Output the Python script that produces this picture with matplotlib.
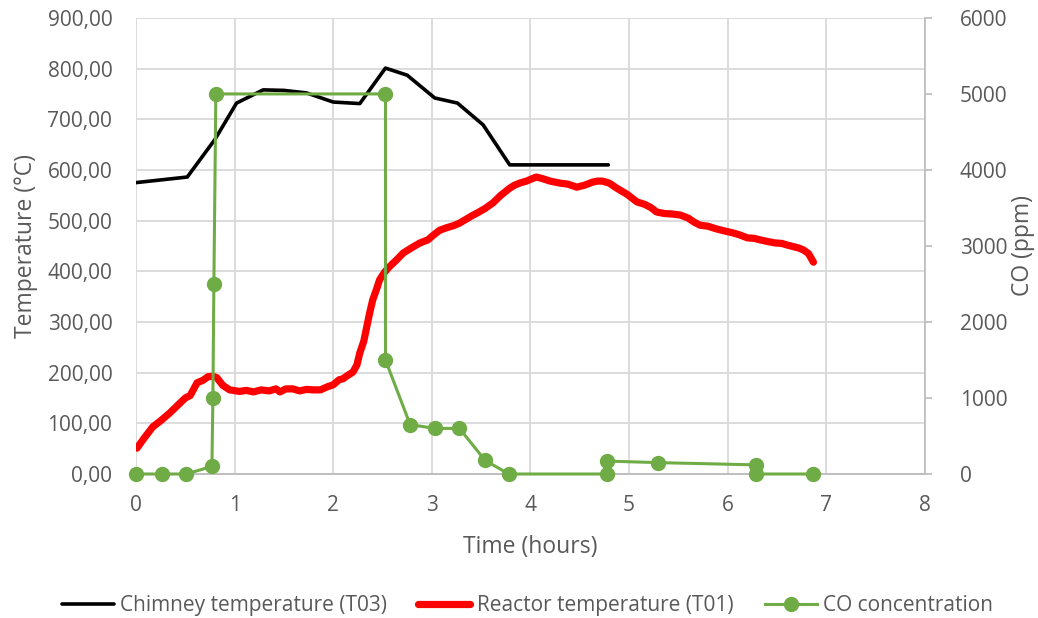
import matplotlib
matplotlib.use("Agg")
import matplotlib.pyplot as plt
from matplotlib.ticker import FuncFormatter, MultipleLocator

plt.rcParams['font.family'] = ['Open Sans', 'DejaVu Sans']

# Chimney temperature (T03)
chimney_t = [0.0, 0.52, 0.8, 1.02, 1.29, 1.5, 1.73, 2.0, 2.27, 2.53, 2.75, 3.03, 3.26, 3.52, 3.79, 4.79]
chimney_v = [575, 586, 660, 732, 758, 757, 752, 734, 731, 801, 787, 742, 732, 689, 610, 610]

# Reactor temperature (T01)
reactor_t = [0.01, 0.08, 0.17, 0.25, 0.34, 0.42, 0.5, 0.55, 0.62, 0.68, 0.73, 0.78, 0.82, 0.88, 0.95,
             1.05, 1.12, 1.19, 1.27, 1.35, 1.42, 1.46, 1.52, 1.59, 1.66, 1.73, 1.8, 1.87, 1.94, 2.0,
             2.06, 2.1, 2.15, 2.2, 2.24, 2.27, 2.31, 2.34, 2.37, 2.4, 2.44, 2.47, 2.52, 2.57, 2.64,
             2.71, 2.8, 2.88, 2.96, 3.02, 3.08, 3.15, 3.22, 3.28, 3.35, 3.41, 3.46, 3.54, 3.62,
             3.7, 3.79, 3.84, 3.89, 3.96, 4.02, 4.06, 4.12, 4.2, 4.3, 4.38, 4.47, 4.55, 4.63,
             4.68, 4.73, 4.8, 4.86, 4.91, 4.98, 5.08, 5.16, 5.22, 5.28, 5.36, 5.44, 5.52, 5.6,
             5.66, 5.72, 5.8, 5.88, 5.96, 6.05, 6.12, 6.2, 6.27, 6.33, 6.4, 6.48, 6.55, 6.6,
             6.66, 6.72, 6.77, 6.82, 6.87]
reactor_v = [51, 70, 93, 105, 120, 135, 150, 155, 180, 185, 192, 193, 190, 175, 166,
             163, 165, 162, 166, 164, 168, 162, 168, 168, 164, 167, 166, 166, 172, 176,
             186, 188, 195, 201, 215, 239, 262, 290, 318, 343, 365, 383, 398, 409, 422,
             436, 447, 456, 462, 472, 481, 486, 490, 495, 503, 510, 515, 524, 535,
             550, 564, 570, 574, 578, 583, 586, 583, 578, 574, 572, 566, 570, 576,
             578, 578, 574, 566, 560, 552, 537, 532, 526, 517, 514, 513, 511, 505,
             497, 491, 489, 484, 480, 476, 472, 466, 465, 462, 459, 456, 455, 452,
             449, 446, 442, 435, 418]

# CO concentration
co_t = [0.0, 0.26, 0.51, 0.77, 0.78, 0.79, 0.81, 2.53, 2.53, 2.78, 3.03, 3.28, 3.54, 3.78,
        4.78, 4.78, 5.29, 6.29, 6.29, 6.87]
co_v = [0, 0, 0, 100, 1000, 2500, 5000, 5000, 1500, 650, 600, 600, 180, 0,
        0, 170, 150, 120, 0, 0]

x_ticks = list(range(0, 9))

text_color = '#595959'
grid_color = '#d9d9d9'
axis_color = '#bfbfbf'
green = '#6fac46'
tick_fs = 15
label_fs = 16.5

fig = plt.figure(figsize=(10.38, 6.18), dpi=100)
ax = fig.add_axes([0.131, 0.233, 0.760, 0.738])
ax2 = ax.twinx()

l1, = ax.plot(chimney_t, chimney_v, color='black', lw=2.6, solid_capstyle='round',
              solid_joinstyle='round', label='Chimney temperature (T03)')
l2, = ax.plot(reactor_t, reactor_v, color='#ff0000', lw=5.2, solid_capstyle='round',
              solid_joinstyle='round', label='Reactor temperature (T01)')
l3, = ax2.plot(co_t, co_v, color=green, lw=2.2, marker='o', markersize=10,
               markeredgecolor=green, markerfacecolor=green, clip_on=False,
               zorder=3, label='CO concentration')

# CO line drawn above the temperature lines, on its own scale
ax2.set_zorder(ax.get_zorder() + 1)
ax.patch.set_facecolor('white')
ax2.patch.set_visible(False)

ax.set_xlim(0, 8)
ax.set_ylim(0, 900)
ax2.set_ylim(0, 6000)
ax.yaxis.set_major_locator(MultipleLocator(100))
ax2.yaxis.set_major_locator(MultipleLocator(1000))
ax.set_xticks(x_ticks)

ax.yaxis.set_major_formatter(FuncFormatter(lambda v, p: f"{v:.2f}".replace('.', ',')))
ax2.yaxis.set_major_formatter(FuncFormatter(lambda v, p: f"{int(v)}"))

ax.grid(True, color=grid_color, lw=1.3)
ax.set_axisbelow(True)

for a in (ax, ax2):
    for s in ('top', 'left'):
        a.spines[s].set_visible(False)
    a.spines['bottom'].set_color(axis_color)
    a.spines['bottom'].set_linewidth(1.3)
    a.tick_params(length=0, colors=text_color, labelsize=tick_fs)
ax.spines['right'].set_visible(False)
ax2.spines['right'].set_color(axis_color)
ax2.spines['right'].set_linewidth(1.3)
ax2.tick_params(axis='y', length=5, width=1.3, color=axis_color, direction='out',
                labelcolor=text_color, pad=20)

ax.tick_params(axis='y', pad=17)
ax.tick_params(axis='x', pad=15)

ax.set_xlabel('Time (hours)', color=text_color, fontsize=label_fs, labelpad=14)
ax.set_ylabel('Temperature (°C)', color=text_color, fontsize=label_fs, labelpad=7)
ax2.set_ylabel('CO (ppm)', color=text_color, fontsize=label_fs, labelpad=3)

fig.legend(handles=[l1, l2, l3], loc='center', bbox_to_anchor=(0.508, 0.02), ncol=3,
           frameon=False, fontsize=tick_fs, labelcolor=text_color, handlelength=2.5,
           handletextpad=0.3, columnspacing=1.5)

fig.savefig('out.png', dpi=100)
